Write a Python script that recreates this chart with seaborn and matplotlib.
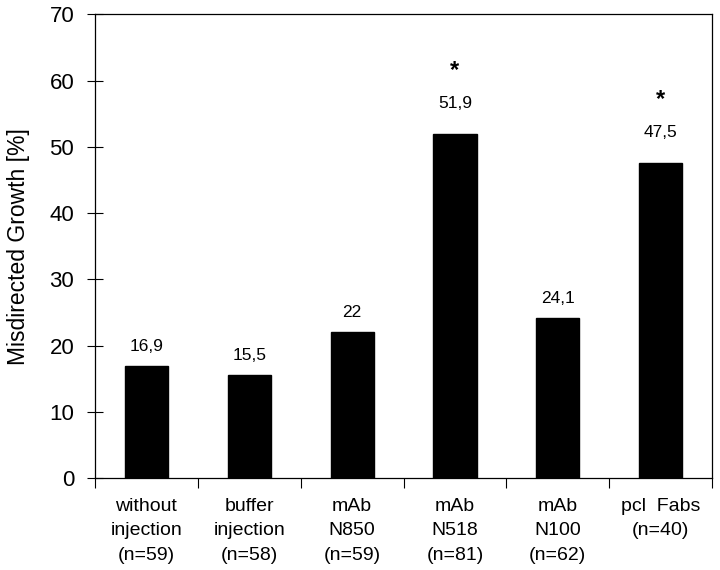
import seaborn as sns
import matplotlib.pyplot as plt
import pandas as pd

# data
groups = ["without\ninjection\n(n=59)", "buffer\ninjection\n(n=58)", "mAb\nN850\n(n=59)",
          "mAb\nN518\n(n=81)", "mAb\nN100\n(n=62)", "pcl  Fabs\n(n=40)"]
values = [16.9, 15.5, 22.0, 51.9, 24.1, 47.5]
value_labels = ["16,9", "15,5", "22", "51,9", "24,1", "47,5"]
significant = [False, False, False, True, False, True]
y_ticks = [0, 10, 20, 30, 40, 50, 60, 70]

df = pd.DataFrame({"group": groups, "value": values})

sns.set_style("white")
plt.rcParams["font.family"] = ["Liberation Sans", "DejaVu Sans"]
plt.rcParams["text.color"] = "black"
plt.rcParams["xtick.color"] = "black"
plt.rcParams["ytick.color"] = "black"
plt.rcParams["axes.labelcolor"] = "black"

fig = plt.figure(figsize=(7.2, 5.7), dpi=100)
ax = fig.add_axes([0.132, 0.161, 0.857, 0.814])

sns.barplot(data=df, x="group", y="value", order=groups, color="black",
            width=0.42, saturation=1, edgecolor="black", ax=ax)

# value labels and significance stars
for i, (v, lab, sig) in enumerate(zip(values, value_labels, significant)):
    off = 22 if sig else 14.5
    ax.annotate(lab, (i, v), xytext=(0, off), textcoords="offset points",
                ha="center", va="center", fontsize=12.5)
    if sig:
        ax.annotate("*", (i, v), xytext=(0, 46), textcoords="offset points",
                    ha="center", va="center", fontsize=17, fontweight="bold")

ax.set_ylim(0, 70)
ax.set_xlim(-0.5, len(groups) - 0.5)
ax.set_yticks(y_ticks)
ax.tick_params(axis="y", left=True, direction="inout", length=12, width=0.8,
               labelsize=16, pad=9)

# category labels without tick marks, tick marks between categories
ax.set_xticks(range(len(groups)))
ax.set_xticklabels(groups, fontsize=14, linespacing=1.6)
ax.tick_params(axis="x", which="major", bottom=True, length=0, pad=14)
ax.set_xticks([i - 0.5 for i in range(len(groups) + 1)], minor=True)
ax.tick_params(axis="x", which="minor", bottom=True, direction="out", length=7, width=0.8)

ax.set_xlabel("")
ax.set_ylabel("Misdirected Growth [%]", fontsize=16.5, labelpad=14)

for s in ax.spines.values():
    s.set_visible(True)
    s.set_color("black")
    s.set_linewidth(0.9)

plt.savefig("out.png", dpi=100)
